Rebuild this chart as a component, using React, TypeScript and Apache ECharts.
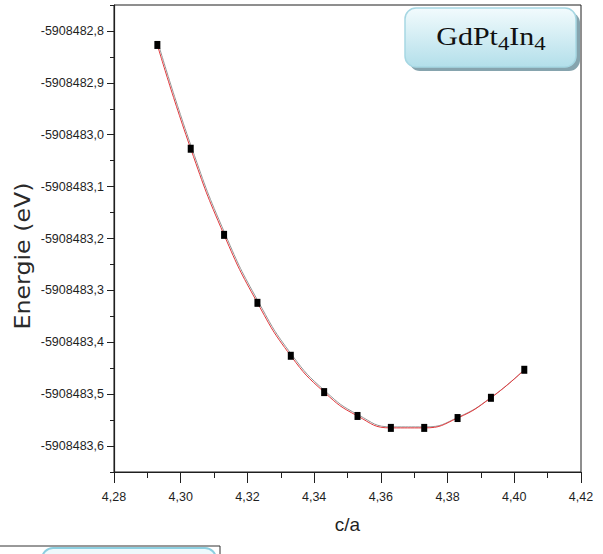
import { useEffect, useRef } from "react";
import * as echarts from "echarts";

// c/a ratio of each relaxed cell and its total energy (eV)
const ratioCA = [4.293, 4.303, 4.313, 4.323, 4.333, 4.343, 4.353, 4.363, 4.373, 4.383, 4.393, 4.403];
const energyEV = [
  -5908482.827, -5908483.027, -5908483.193, -5908483.324, -5908483.426, -5908483.496,
  -5908483.542, -5908483.565, -5908483.565, -5908483.546, -5908483.507, -5908483.453,
];

// axis extents and tick positions
const ratioRange = [4.28, 4.42];
const ratioStep = 0.02;
const energyRange = [-5908483.65, -5908482.75];
const energyMajorTicks = [
  -5908483.6, -5908483.5, -5908483.4, -5908483.3, -5908483.2, -5908483.1, -5908483.0, -5908482.9,
  -5908482.8,
];
const energyMinorTicks = [
  -5908483.65, -5908483.55, -5908483.45, -5908483.35, -5908483.25, -5908483.15, -5908483.05,
  -5908482.95, -5908482.85, -5908482.75,
];

const compound = [
  { text: "GdPt", sub: false },
  { text: "4", sub: true },
  { text: "In", sub: false },
  { text: "4", sub: true },
];

const INK = "#1f1f1f";
const TICK_FONT = "'Liberation Sans', Arial, sans-serif";
const SERIF = "'Liberation Serif', 'Times New Roman', serif";

function measure(text: string, font: string) {
  const ctx = document.createElement("canvas").getContext("2d")!;
  ctx.font = font;
  return ctx.measureText(text).width;
}

function formulaLabel() {
  const mainSize = 25;
  const subSize = 19;
  const scaleX = 1.2;
  let cursor = 0;
  const children: any[] = [];
  compound.forEach((part) => {
    const size = part.sub ? subSize : mainSize;
    children.push({
      type: "text",
      x: cursor,
      y: part.sub ? 53 : 48.5,
      style: {
        text: part.text,
        fontFamily: SERIF,
        fontSize: size,
        fill: "#111",
        textAlign: "left",
        textVerticalAlign: "bottom",
        verticalAlign: "bottom",
      },
    });
    cursor += measure(part.text, `${size}px ${SERIF}`);
  });
  return {
    type: "group",
    x: 491 - (cursor * scaleX) / 2,
    y: 0,
    scaleX,
    children,
  };
}

export default function App() {
  const ref = useRef<HTMLDivElement>(null);

  useEffect(() => {
    if (!ref.current) return;
    const chart = echarts.init(ref.current, undefined, { renderer: "svg" });

    const points = ratioCA.map((x, i) => [x, energyEV[i]]);

    chart.setOption({
      animation: false,
      backgroundColor: "#ffffff",
      grid: {
        left: 114,
        right: 22,
        top: 5,
        bottom: 82,
        show: true,
        borderColor: INK,
        borderWidth: 1,
        backgroundColor: "transparent",
      },
      xAxis: {
        type: "value",
        min: ratioRange[0],
        max: ratioRange[1],
        interval: ratioStep,
        name: "c/a",
        nameLocation: "middle",
        nameGap: 43,
        nameTextStyle: { fontSize: 19, fontFamily: "'Liberation Sans', Arial, sans-serif", color: INK },
        axisLine: { lineStyle: { color: INK, width: 1.2 } },
        axisTick: { length: 11, lineStyle: { color: INK, width: 1 } },
        minorTick: { show: true, splitNumber: 2, length: 6, lineStyle: { color: INK, width: 1 } },
        splitLine: { show: false },
        axisLabel: {
          margin: 18,
          fontSize: 12.5,
          fontFamily: TICK_FONT,
          color: INK,
          formatter: (v: number) => v.toFixed(2).replace(".", ","),
        },
      },
      yAxis: [
        {
          type: "value",
          min: energyRange[0],
          max: energyRange[1],
          axisLine: { show: true, lineStyle: { color: INK, width: 1.2 } },
          axisTick: { show: true, length: 7, customValues: energyMajorTicks, lineStyle: { color: INK } },
          splitLine: { show: false },
          axisLabel: {
            margin: 10,
            fontSize: 12.5,
            fontFamily: TICK_FONT,
            color: INK,
            customValues: energyMajorTicks,
            formatter: (v: number) => v.toFixed(1).replace(".", ","),
          },
        },
        {
          type: "value",
          min: energyRange[0],
          max: energyRange[1],
          position: "left",
          axisLine: { show: false },
          axisTick: { show: true, length: 4, customValues: energyMinorTicks, lineStyle: { color: INK } },
          axisLabel: { show: false },
          splitLine: { show: false },
        },
      ],
      series: [
        {
          type: "line",
          data: points,
          smooth: 0.5,
          symbol: "rect",
          symbolSize: [6, 8],
          itemStyle: { color: "#000" },
          lineStyle: {
            color: "#e0383c",
            width: 1,
            shadowColor: "rgba(60,60,60,0.55)",
            shadowBlur: 0,
            shadowOffsetX: 1,
            shadowOffsetY: -1,
          },
        },
      ],
      graphic: [
        // y-axis title
        {
          type: "text",
          x: 23,
          y: 256,
          rotation: Math.PI / 2,
          scaleX: 1.13,
          style: {
            text: "Energie (eV)",
            fontFamily: "'DejaVu Sans', sans-serif",
            fontSize: 21,
            fill: "#2a2a2a",
            textAlign: "center",
            textVerticalAlign: "middle",
            verticalAlign: "middle",
          },
        },
        // formula badge
        {
          type: "rect",
          shape: { x: 409, y: 12, width: 171, height: 59, r: 11 },
          style: { fill: "#86a4ae" },
        },
        {
          type: "rect",
          shape: { x: 405, y: 8, width: 171, height: 59, r: 11 },
          style: {
            fill: new echarts.graphic.LinearGradient(0, 0, 0, 1, [
              { offset: 0, color: "#f2fbfd" },
              { offset: 1, color: "#b3dfea" },
            ]),
            stroke: "#a6d7e3",
            lineWidth: 1.5,
          },
        },
        formulaLabel(),
        // edge of the neighbouring panel below
        {
          type: "rect",
          shape: { x: 42, y: 548, width: 174, height: 40, r: 11 },
          style: { fill: "#eef9fc", stroke: "#8ccfe0", lineWidth: 2 },
        },
        {
          type: "line",
          shape: { x1: 0, y1: 546, x2: 220, y2: 546 },
          style: { stroke: "#333", lineWidth: 1 },
        },
        {
          type: "line",
          shape: { x1: 220, y1: 546, x2: 220, y2: 554 },
          style: { stroke: "#333", lineWidth: 1 },
        },
      ],
    });

    return () => chart.dispose();
  }, []);

  return (
    <div
      ref={ref}
      style={{ position: "fixed", left: 0, top: 0, width: 603, height: 554 }}
    />
  );
}
